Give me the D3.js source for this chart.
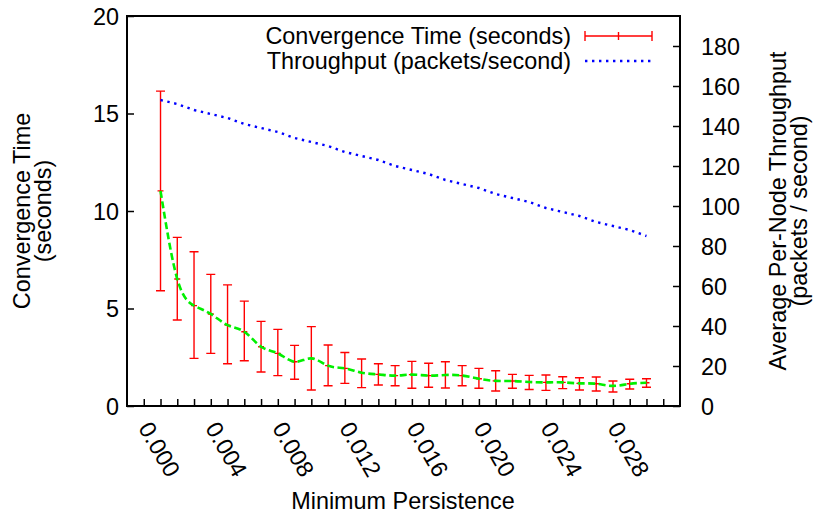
<!DOCTYPE html>
<html>
<head>
<meta charset="utf-8">
<script src="https://cdn.jsdelivr.net/npm/d3@7"></script>
<style>
  body { margin: 0; background: #fff; }
  svg { display: block; font-family: "Liberation Sans", Arial, Helvetica, sans-serif; }
</style>
</head>
<body>
<script>
// minimum persistence values (x)
var persistence = [0.001, 0.002, 0.003, 0.004, 0.005, 0.006, 0.007, 0.008, 0.009, 0.010,
                   0.011, 0.012, 0.013, 0.014, 0.015, 0.016, 0.017, 0.018, 0.019, 0.020,
                   0.021, 0.022, 0.023, 0.024, 0.025, 0.026, 0.027, 0.028, 0.029, 0.030];

// convergence time (seconds): mean, error bar low / high
var convMean = [11.03, 6.51, 5.15, 4.72, 4.15, 3.81, 3.04, 2.70, 2.27, 2.44,
                2.07, 1.93, 1.71, 1.62, 1.56, 1.61, 1.56, 1.59, 1.56, 1.40,
                1.29, 1.28, 1.23, 1.21, 1.21, 1.16, 1.14, 1.03, 1.14, 1.19];
var convLow  = [5.91, 4.41, 2.44, 2.70, 2.17, 2.32, 1.74, 1.56, 1.37, 0.82,
                1.04, 1.16, 0.94, 1.08, 1.04, 0.91, 0.96, 0.92, 1.04, 0.91,
                0.77, 0.91, 0.85, 0.80, 0.89, 0.82, 0.77, 0.72, 0.87, 0.96];
var convHigh = [16.15, 8.65, 7.91, 6.75, 6.21, 5.38, 4.34, 3.93, 3.11, 4.07,
                3.13, 2.74, 2.41, 2.17, 2.07, 2.29, 2.19, 2.27, 2.07, 1.93,
                1.81, 1.62, 1.57, 1.59, 1.50, 1.45, 1.49, 1.28, 1.37, 1.40];

// average per-node throughput (packets/second)
var throughput = [153, 151, 148, 146, 144, 141, 139, 137, 134, 132,
                  130, 127, 125, 123, 120, 118, 116, 113, 111, 109,
                  106, 104, 102, 99, 97, 95, 92, 90, 88, 85];

// axis ticks
var xTicks = d3.range(0, 32).map(function(i) { return i / 1000; });
var xLabels = ["0.000", "0.004", "0.008", "0.012", "0.016", "0.020", "0.024", "0.028"];
var yLeftTicks = [0, 5, 10, 15, 20];
var yRightTicks = [0, 20, 40, 60, 80, 100, 120, 140, 160, 180];

var width = 814, height = 514;
var plot = {left: 127, right: 680, top: 16, bottom: 406};
var fontSize = 23.4;

var svg = d3.select("body").append("svg")
    .attr("width", width)
    .attr("height", height);

var x = d3.scaleLinear().domain([-0.001, 0.032]).range([plot.left, plot.right]);
var yL = d3.scaleLinear().domain([0, 20]).range([plot.bottom, plot.top]);
var yR = d3.scaleLinear().domain([0, 195]).range([plot.bottom, plot.top]);

// axes (ticks point inward like gnuplot)
var gx = svg.append("g")
    .attr("transform", "translate(0," + plot.bottom + ")")
    .call(d3.axisBottom(x).tickValues(xTicks).tickSizeInner(-7).tickSizeOuter(0).tickFormat(""));

var gyl = svg.append("g")
    .attr("transform", "translate(" + plot.left + ",0)")
    .call(d3.axisLeft(yL).tickValues(yLeftTicks).tickSizeInner(-7).tickSizeOuter(0).tickPadding(8));

var gyr = svg.append("g")
    .attr("transform", "translate(" + plot.right + ",0)")
    .call(d3.axisRight(yR).tickValues(yRightTicks).tickSizeInner(-7).tickSizeOuter(0).tickPadding(21));

[gx, gyl, gyr].forEach(function(g) {
    g.select(".domain").remove();
    g.selectAll(".tick line").attr("stroke", "#000").attr("stroke-width", 1.5);
    g.selectAll(".tick text")
        .attr("font-size", fontSize)
        .attr("fill", "#000")
        .attr("dy", "0.35em");
});

// rotated x tick labels
svg.append("g").selectAll("text")
    .data(xLabels)
  .enter().append("text")
    .attr("font-size", fontSize)
    .attr("transform", function(d) {
        return "translate(" + (x(+d) - 6) + ",428) rotate(60)";
    })
    .attr("text-anchor", "start")
    .text(function(d) { return d; });

// border
svg.append("rect")
    .attr("x", plot.left)
    .attr("y", plot.top)
    .attr("width", plot.right - plot.left)
    .attr("height", plot.bottom - plot.top)
    .attr("fill", "none")
    .attr("stroke", "#000")
    .attr("stroke-width", 2);

// axis titles
svg.append("text")
    .attr("font-size", fontSize)
    .attr("text-anchor", "middle")
    .attr("x", 403)
    .attr("y", 509)
    .text("Minimum Persistence");

var leftTitle = svg.append("text")
    .attr("font-size", fontSize)
    .attr("text-anchor", "middle")
    .attr("transform", "translate(30," + (plot.top + plot.bottom) / 2 + ") rotate(-90)");
leftTitle.append("tspan").attr("x", 0).attr("y", 0).text("Convergence Time");
leftTitle.append("tspan").attr("x", 0).attr("y", 21).text("(seconds)");

var rightTitle = svg.append("text")
    .attr("font-size", fontSize)
    .attr("text-anchor", "middle")
    .attr("transform", "translate(786," + (plot.top + plot.bottom) / 2 + ") rotate(-90)");
rightTitle.append("tspan").attr("x", 0).attr("y", 0).text("Average Per-Node Throughput");
rightTitle.append("tspan").attr("x", 0).attr("y", 21).text("(packets / second)");

var data = persistence.map(function(p, i) {
    return {x: p, mean: convMean[i], lo: convLow[i], hi: convHigh[i], tp: throughput[i]};
});

// error bars
var cap = 4.5;
var bars = svg.append("g")
    .attr("stroke", "#ff0000")
    .attr("stroke-width", 1.4)
    .attr("fill", "none");

bars.selectAll("path")
    .data(data)
  .enter().append("path")
    .attr("d", function(d) {
        var cx = x(d.x), t = yL(d.hi), b = yL(d.lo), m = yL(d.mean);
        return "M" + cx + "," + t + "V" + b +
               "M" + (cx - cap) + "," + t + "H" + (cx + cap) +
               "M" + (cx - cap) + "," + b + "H" + (cx + cap) +
               "M" + (cx - 3) + "," + m + "H" + (cx + 3);
    });

// smoothed mean curve
var smooth = d3.line()
    .x(function(d) { return x(d.x); })
    .y(function(d) { return yL(d.mean); })
    .curve(d3.curveNatural);

svg.append("path")
    .datum(data)
    .attr("d", smooth)
    .attr("fill", "none")
    .attr("stroke", "#00f000")
    .attr("stroke-width", 2.6)
    .attr("stroke-dasharray", "7,3.5");

// throughput line
var tpLine = d3.line()
    .x(function(d) { return x(d.x); })
    .y(function(d) { return yR(d.tp); });

svg.append("path")
    .datum(data)
    .attr("d", tpLine)
    .attr("fill", "none")
    .attr("stroke", "#0000ff")
    .attr("stroke-width", 2.4)
    .attr("stroke-dasharray", "2.4,4.6");

// legend
var legend = svg.append("g").attr("font-size", fontSize);
legend.append("text")
    .attr("x", 571).attr("y", 36).attr("dy", "0.35em")
    .attr("text-anchor", "end")
    .text("Convergence Time (seconds)");
legend.append("text")
    .attr("x", 571).attr("y", 61).attr("dy", "0.35em")
    .attr("text-anchor", "end")
    .text("Throughput (packets/second)");

legend.append("path")
    .attr("d", "M585,36H652M585,31V41M652,31V41M618.5,32V40")
    .attr("stroke", "#ff0000")
    .attr("stroke-width", 1.4)
    .attr("fill", "none");
legend.append("path")
    .attr("d", "M585,61H652")
    .attr("stroke", "#0000ff")
    .attr("stroke-width", 2.4)
    .attr("stroke-dasharray", "2.4,4.6")
    .attr("fill", "none");
</script>
</body>
</html>
